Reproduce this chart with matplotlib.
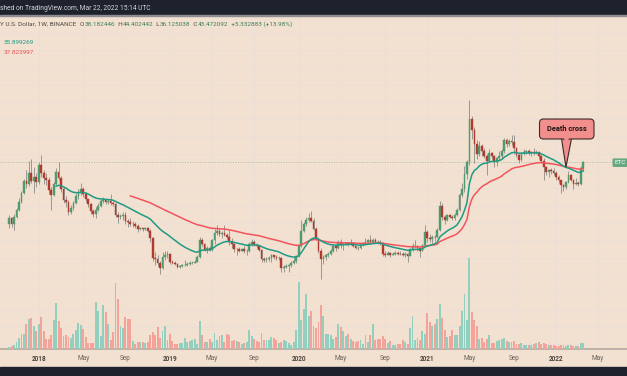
import numpy as np
import pandas as pd
import matplotlib
matplotlib.use("Agg")
import matplotlib.pyplot as plt
from matplotlib.patches import Rectangle, FancyBboxPatch, Polygon
from matplotlib.transforms import IdentityTransform
from matplotlib.ticker import NullLocator

plt.rcParams['font.family'] = ['Roboto', 'DejaVu Sans']

# ETC/USD weekly candles, Binance
first_week = "2017-10-09"
first_open = 10.4
close = [12.1, 10.6, 12.4, 14.6, 17.5, 21.5, 28.0, 26.0, 33.5, 28.0, 31.0, 27.2,
         40.5, 33.5, 30.0, 28.5, 23.0, 20.6, 26.0, 34.5, 30.0, 23.5, 18.0, 17.4,
         13.8, 15.3, 17.0, 20.0, 21.2, 23.5, 21.0, 18.4, 16.4, 14.0, 13.2, 14.6,
         16.0, 17.8, 18.0, 17.2, 17.7, 17.0, 16.4, 13.0, 12.2, 12.6, 12.9, 11.2,
         10.9, 10.5, 10.6, 10.0, 9.4, 9.5, 9.3, 9.5, 9.0, 7.6, 4.8, 4.7,
         4.3, 3.8, 4.9, 5.2, 5.3, 4.4, 4.3, 4.2, 3.95, 4.0, 4.05, 4.1,
         4.2, 4.25, 4.3, 4.4, 4.9, 7.3, 6.6, 5.8, 6.1, 5.8, 7.2, 8.6,
         9.0, 8.3, 8.6, 8.2, 7.8, 7.0, 6.6, 5.9, 5.9, 5.7, 5.9, 5.6,
         5.6, 6.6, 7.0, 6.5, 6.3, 5.8, 4.7, 4.6, 4.7, 4.8, 5.1, 4.9,
         4.8, 4.85, 3.8, 3.9, 4.0, 4.1, 4.3, 4.5, 5.0, 6.3, 9.0, 10.5,
         11.6, 12.1, 11.3, 9.4, 7.5, 5.6, 4.7, 4.95, 5.1, 5.25, 5.7, 6.3,
         6.0, 6.9, 6.5, 6.7, 6.8, 6.6, 6.8, 6.4, 6.1, 6.0, 6.5, 6.7,
         6.9, 7.2, 7.0, 7.3, 7.0, 6.9, 6.8, 5.3, 5.2, 5.35, 5.2, 5.3,
         5.4, 5.3, 5.25, 5.2, 5.25, 5.0, 5.9, 6.3, 6.3, 6.0, 5.7, 6.5,
         8.8, 7.6, 7.4, 7.8, 7.7, 9.2, 16.0, 12.3, 11.6, 12.8, 12.3, 12.0,
         12.8, 14.6, 20.3, 23.5, 33.0, 43.5, 116.0, 90.0, 66.0, 52.0, 63.0, 56.0,
         50.0, 44.0, 54.0, 50.0, 43.0, 48.0, 50.0, 56.0, 72.0, 66.0, 70.0, 69.0,
         60.0, 51.0, 46.0, 53.0, 54.5, 55.5, 53.5, 54.5, 53.5, 54.5, 49.5, 44.0,
         38.5, 34.5, 36.0, 35.0, 33.5, 30.5, 28.5, 25.5, 24.5, 27.5, 32.0, 29.0,
         26.5, 26.9, 26.0, 38.182446, 43.472092]
high = [12.8, 12.4, 13.2, 15.3, 19.2, 22.6, 29.6, 36.0, 44.5, 46.5, 39.0, 34.0,
        43.5, 50.5, 36.5, 33.5, 30.5, 24.5, 27.5, 37.5, 43.0, 31.5, 24.5, 19.8,
        18.0, 16.2, 17.8, 21.2, 23.5, 26.8, 24.5, 21.6, 18.8, 16.9, 14.9, 15.6,
        17.0, 18.6, 19.6, 18.6, 18.8, 21.0, 17.6, 16.8, 13.8, 13.3, 13.7, 13.9,
        11.8, 11.9, 11.2, 10.9, 10.4, 9.8, 9.6, 9.7, 9.9, 9.3, 7.7, 5.5,
        5.2, 4.5, 5.5, 5.7, 5.6, 5.4, 4.6, 4.5, 4.3, 4.1, 4.2, 4.6,
        4.4, 4.5, 4.5, 4.6, 5.1, 7.7, 7.6, 6.8, 6.4, 6.4, 7.5, 9.4,
        10.3, 9.5, 8.9, 10.2, 8.5, 9.2, 7.6, 6.8, 6.1, 6.2, 6.1, 6.4,
        5.9, 6.9, 7.5, 7.2, 6.8, 6.5, 5.9, 4.9, 4.9, 5.0, 5.3, 5.2,
        5.1, 5.0, 4.9, 4.1, 4.2, 4.2, 4.5, 4.8, 5.2, 6.5, 11.5, 10.9,
        12.2, 13.5, 14.0, 12.0, 9.8, 7.8, 6.0, 5.1, 5.3, 5.5, 5.9, 6.5,
        6.5, 7.2, 7.5, 6.9, 7.0, 7.0, 7.4, 6.9, 6.5, 6.3, 6.7, 7.0,
        7.6, 7.5, 8.2, 7.6, 7.6, 7.3, 7.2, 7.0, 5.6, 5.6, 5.5, 5.5,
        5.6, 5.6, 5.6, 5.5, 5.5, 5.4, 6.1, 6.8, 7.2, 6.5, 6.1, 6.7,
        10.3, 9.2, 8.3, 8.2, 8.2, 9.6, 17.8, 16.8, 13.0, 13.2, 13.3, 12.9,
        13.5, 15.2, 21.5, 27.0, 40.0, 46.0, 180.0, 124.0, 96.0, 72.0, 70.0, 66.0,
        60.0, 52.0, 58.0, 55.0, 51.0, 49.0, 56.0, 58.0, 76.0, 75.0, 73.0, 80.0,
        81.0, 61.0, 53.0, 55.0, 58.0, 57.0, 58.0, 56.0, 60.0, 57.0, 55.0, 51.0,
        48.0, 40.0, 37.0, 38.0, 38.0, 35.0, 32.0, 29.0, 26.5, 28.0, 35.0, 33.0,
        29.5, 30.0, 28.0, 39.5, 44.402442]
low = [9.6, 9.9, 9.1, 12.0, 14.0, 16.8, 20.8, 23.8, 25.0, 26.8, 21.5, 24.5,
       26.5, 31.0, 26.5, 25.8, 21.0, 14.5, 20.0, 25.5, 28.8, 22.0, 16.8, 15.6,
       12.8, 13.2, 14.6, 16.4, 18.6, 20.2, 19.4, 17.5, 15.4, 13.2, 12.3, 12.0,
       14.1, 15.5, 17.0, 16.5, 16.4, 16.2, 15.7, 12.4, 10.8, 11.8, 11.4, 10.5,
       9.8, 10.0, 9.9, 9.6, 8.8, 9.1, 9.0, 9.1, 8.8, 7.0, 4.5, 4.1,
       4.0, 3.3, 3.7, 4.6, 4.8, 4.2, 4.2, 4.1, 3.8, 3.8, 3.9, 4.0,
       4.0, 4.1, 4.15, 4.3, 4.35, 4.8, 6.3, 5.6, 5.4, 5.6, 5.7, 6.6,
       8.1, 7.9, 7.6, 7.9, 7.5, 6.5, 6.0, 5.5, 5.1, 5.5, 5.6, 5.4,
       5.1, 5.5, 6.4, 6.3, 6.1, 5.6, 4.4, 4.4, 4.4, 4.5, 4.4, 4.7,
       4.6, 4.6, 3.5, 3.5, 3.8, 3.5, 3.9, 4.2, 4.3, 4.9, 6.2, 8.8,
       10.0, 11.0, 10.9, 9.2, 7.2, 5.4, 3.0, 4.2, 4.6, 4.9, 5.2, 5.5,
       5.7, 5.9, 6.1, 5.8, 6.5, 6.3, 6.5, 6.2, 5.9, 5.8, 5.9, 6.4,
       6.6, 6.8, 6.7, 6.8, 6.9, 6.6, 6.5, 5.0, 4.9, 5.1, 4.9, 5.1,
       5.2, 5.2, 5.1, 5.0, 4.9, 4.4, 5.0, 5.6, 6.0, 5.6, 4.9, 5.6,
       6.4, 7.0, 6.9, 6.8, 7.1, 7.6, 9.0, 11.5, 10.5, 11.2, 11.9, 11.5,
       11.6, 12.6, 14.2, 19.5, 22.0, 29.5, 41.0, 73.0, 42.0, 47.0, 50.0, 50.0,
       48.0, 32.0, 43.0, 47.0, 39.0, 40.0, 46.0, 47.0, 54.0, 62.0, 63.0, 64.0,
       52.0, 49.0, 42.0, 44.5, 51.0, 52.0, 51.0, 50.0, 51.5, 52.0, 47.0, 42.0,
       28.5, 32.0, 31.0, 33.0, 32.0, 28.5, 27.0, 21.3, 22.5, 23.5, 27.0, 28.0,
       23.5, 25.5, 25.3, 25.5, 36.125038]
# weekly volume, relative units
volume = [2, 3, 4, 7, 11, 15, 15, 25, 30, 31, 23, 18,
          25, 32, 18, 10, 10, 14, 29, 46, 28, 21, 13, 14,
          12, 11, 15, 19, 26, 24, 20, 12, 6, 6, 6, 47,
          38, 13, 44, 37, 25, 9, 17, 66, 50, 23, 21, 32,
          30, 30, 8, 5, 7, 7, 7, 6, 7, 14, 17, 14,
          22, 11, 18, 23, 9, 15, 8, 5, 5, 6, 6, 11,
          7, 8, 9, 10, 5, 28, 14, 7, 7, 10, 7, 16,
          9, 13, 14, 7, 15, 14, 8, 9, 8, 7, 5, 6,
          7, 19, 13, 10, 8, 7, 16, 9, 9, 9, 12, 11,
          9, 6, 7, 9, 8, 6, 4, 7, 19, 67, 29, 40,
          55, 33, 38, 23, 21, 27, 44, 33, 15, 15, 14, 10,
          12, 25, 22, 18, 13, 15, 10, 8, 7, 8, 9, 5,
          14, 7, 14, 25, 9, 10, 10, 13, 10, 6, 8, 4,
          4, 5, 5, 9, 7, 5, 21, 33, 9, 11, 9, 18,
          15, 36, 27, 23, 25, 30, 45, 31, 19, 12, 13, 19,
          14, 14, 23, 38, 55, 29, 91, 37, 29, 23, 10, 11,
          7, 10, 14, 6, 6, 8, 9, 10, 11, 8, 7, 7,
          8, 5, 5, 6, 4, 4, 4, 4, 5, 6, 7, 5,
          6, 5, 4, 4, 4, 3, 3, 4, 4, 3, 4, 4,
          3, 3, 3, 6, 6]

tick_dates = ["2018-01-01", "2018-05-07", "2018-09-03", "2019-01-07", "2019-05-06",
              "2019-09-02", "2020-01-06", "2020-05-04", "2020-09-07", "2021-01-04",
              "2021-05-03", "2021-09-06", "2022-01-03", "2022-05-02"]
tick_labels = ["2018", "May", "Sep", "2019", "May", "Sep", "2020", "May", "Sep",
               "2021", "May", "Sep", "2022", "May"]
fast_len, slow_len = 20, 50

weeks = pd.date_range(first_week, periods=len(close), freq="7D")
close = np.array(close)
high = np.array(high)
low = np.array(low)
opens = np.concatenate([[first_open], close[:-1]])
up = close >= opens


def tv_ema(values, n):
    # TradingView style EMA: seeded with the SMA of the first n values
    out = np.full(len(values), np.nan)
    out[n - 1] = values[:n].mean()
    a = 2.0 / (n + 1)
    for k in range(n, len(values)):
        out[k] = a * values[k] + (1 - a) * out[k - 1]
    return out


ema_fast = tv_ema(close, fast_len)
ema_slow = tv_ema(close, slow_len)

W, H = 627, 376
bg = '#f2e0d0'
grid_c = '#e9dfd8'
c_up, c_dn = '#4f9b6f', '#b03a2e'
v_up, v_dn = '#93cfbf', '#f3a39a'

fig = plt.figure(figsize=(W / 100, H / 100), dpi=100)
fig.patch.set_facecolor(bg)


def fy(ypx):
    return 1 - ypx / H


ax = fig.add_axes([0, fy(349), 1, (349 - 15) / H])
ax.set_facecolor(bg)
ax.set_yscale('log')
ax.set_ylim(0.5964, 1265.8)
x0 = weeks[0]
ax.set_xlim(x0 - pd.Timedelta(days=25.7), x0 + pd.Timedelta(days=1747.6))
ax.set_yticks([])
ax.yaxis.set_minor_locator(NullLocator())
ax.tick_params(axis='y', which='both', left=False, right=False,
               labelleft=False, labelright=False)

# horizontal grid (evenly spaced on the log scale)
for gp in 43.47 * np.exp((162 - np.arange(32.7, 349, 17.3)) / 43.6):
    ax.axhline(gp, color=grid_c, lw=0.7, zorder=0)

ax.set_xticks(pd.to_datetime(tick_dates))
ax.set_xticklabels(tick_labels)
ax.tick_params(axis='x', length=0, pad=4.5, labelsize=4.7, labelcolor='#6e655d')
for lab in ax.get_xticklabels():
    if lab.get_text().isdigit():
        lab.set_fontweight('bold')
        lab.set_color('#4d4640')
ax.grid(True, axis='x', color=grid_c, lw=0.7)
ax.set_axisbelow(True)
for s in ['top', 'left', 'right']:
    ax.spines[s].set_visible(False)
ax.spines['bottom'].set_color('#b9aea4')
ax.spines['bottom'].set_linewidth(1.3)

# volume
vax = ax.twinx()
vax.set_ylim(0, max(volume) * 334 / 91)
vax.bar(weeks, volume, width=5.4, color=np.where(up, v_up, v_dn), lw=0)
vax.set_yticks([])
vax.tick_params(axis='y', which='both', left=False, right=False)
for s in vax.spines.values():
    s.set_visible(False)

# candles
body_col = np.where(up, c_up, c_dn)
ax.vlines(weeks, low, high, colors='#8d8a86', lw=0.6, zorder=2)
ax.bar(weeks, np.abs(close - opens), bottom=np.minimum(close, opens), width=5.0,
       color=body_col, edgecolor=body_col, lw=0.3, zorder=3)

ax.plot(weeks, ema_slow, color='#f2545d', lw=1.1, zorder=4)
ax.plot(weeks, ema_fast, color='#1f9a84', lw=1.1, zorder=5)
ax.axhline(close[-1], color='#a9bba6', lw=0.7, ls=(0, (1, 1.6)), zorder=1)

# header / footer bars
fig.add_artist(Rectangle((0, fy(15)), 1, 15 / H, transform=fig.transFigure,
                         color='#1e222d', zorder=20))
fig.add_artist(Rectangle((0, fy(15.8)), 1, 0.8 / H, transform=fig.transFigure,
                         color='#8e8c90', zorder=20))
fig.add_artist(Rectangle((0, 0), 1, 9 / H, transform=fig.transFigure,
                         color='#1e222d', zorder=20))
fig.text(0.5 / W, fy(8), "shed on TradingView.com, Mar 22, 2022 15:14 UTC",
         ha='left', va='center', fontsize=4.8, color='#d5d7dd', zorder=21)

# OHLC legend
dark, val = '#4f4a44', '#3f7f5e'
segs = [("Y U.S. Dollar, 1W, BINANCE  ", dark), ("O", dark), ("38.182446", val),
        ("  H", dark), ("44.402442", val), ("  L", dark), ("36.125038", val),
        ("  C", dark), ("43.472092", val), ("  +5.332883 (+13.98%)", val)]
prev = fig.text(0.5 / W, fy(26.6), segs[0][0], ha='left', va='bottom',
                fontsize=4.6, color=segs[0][1])
for txt, col in segs[1:]:
    prev = ax.annotate(txt, xy=(1, 0), xycoords=prev, ha='left', va='bottom',
                       fontsize=4.6, color=col, annotation_clip=False)
fig.text(4 / W, fy(42), "35.899269", ha='left', va='center', fontsize=4.6, color='#1f9a84')
fig.text(4 / W, fy(52), "37.823997", ha='left', va='center', fontsize=4.6, color='#ee4f59')

# price label on the right edge
fig.add_artist(FancyBboxPatch((612.5, H - 167), 30, 8.6, boxstyle="round,pad=0,rounding_size=1.2",
                              transform=IdentityTransform(), fc='#68a983', ec='none', zorder=15))
fig.text(614.3 / W, fy(162.8), "ETC", ha='left', va='center', fontsize=4.5,
         color='white', zorder=16)

# "Death cross" callout
fig.canvas.draw()
tip = ax.transData.transform((matplotlib.dates.date2num(weeks[225]), 38.6))
pink, edge = '#f28e8c', '#3d2b2b'
fig.add_artist(Polygon([(561.5, H - 138.5), tip, (571.5, H - 138.5)], closed=True,
                       transform=IdentityTransform(), fc=pink, ec=edge, lw=0.8, zorder=30))
fig.add_artist(FancyBboxPatch((539.5, H - 139), 54.5, 20, boxstyle="round,pad=0,rounding_size=4",
                              transform=IdentityTransform(), fc=pink, ec=edge, lw=0.8, zorder=31))
fig.add_artist(Polygon([(562.4, H - 136.5), (570.6, H - 136.5), (566.5, H - 141.5)], closed=True,
                       transform=IdentityTransform(), fc=pink, ec='none', zorder=32))
fig.text(566.8 / W, fy(129.2), "Death cross", ha='center', va='center', fontsize=5.3,
         fontweight='bold', color='#1c1414', zorder=33)

fig.savefig("out.png", dpi=100, facecolor=bg)
